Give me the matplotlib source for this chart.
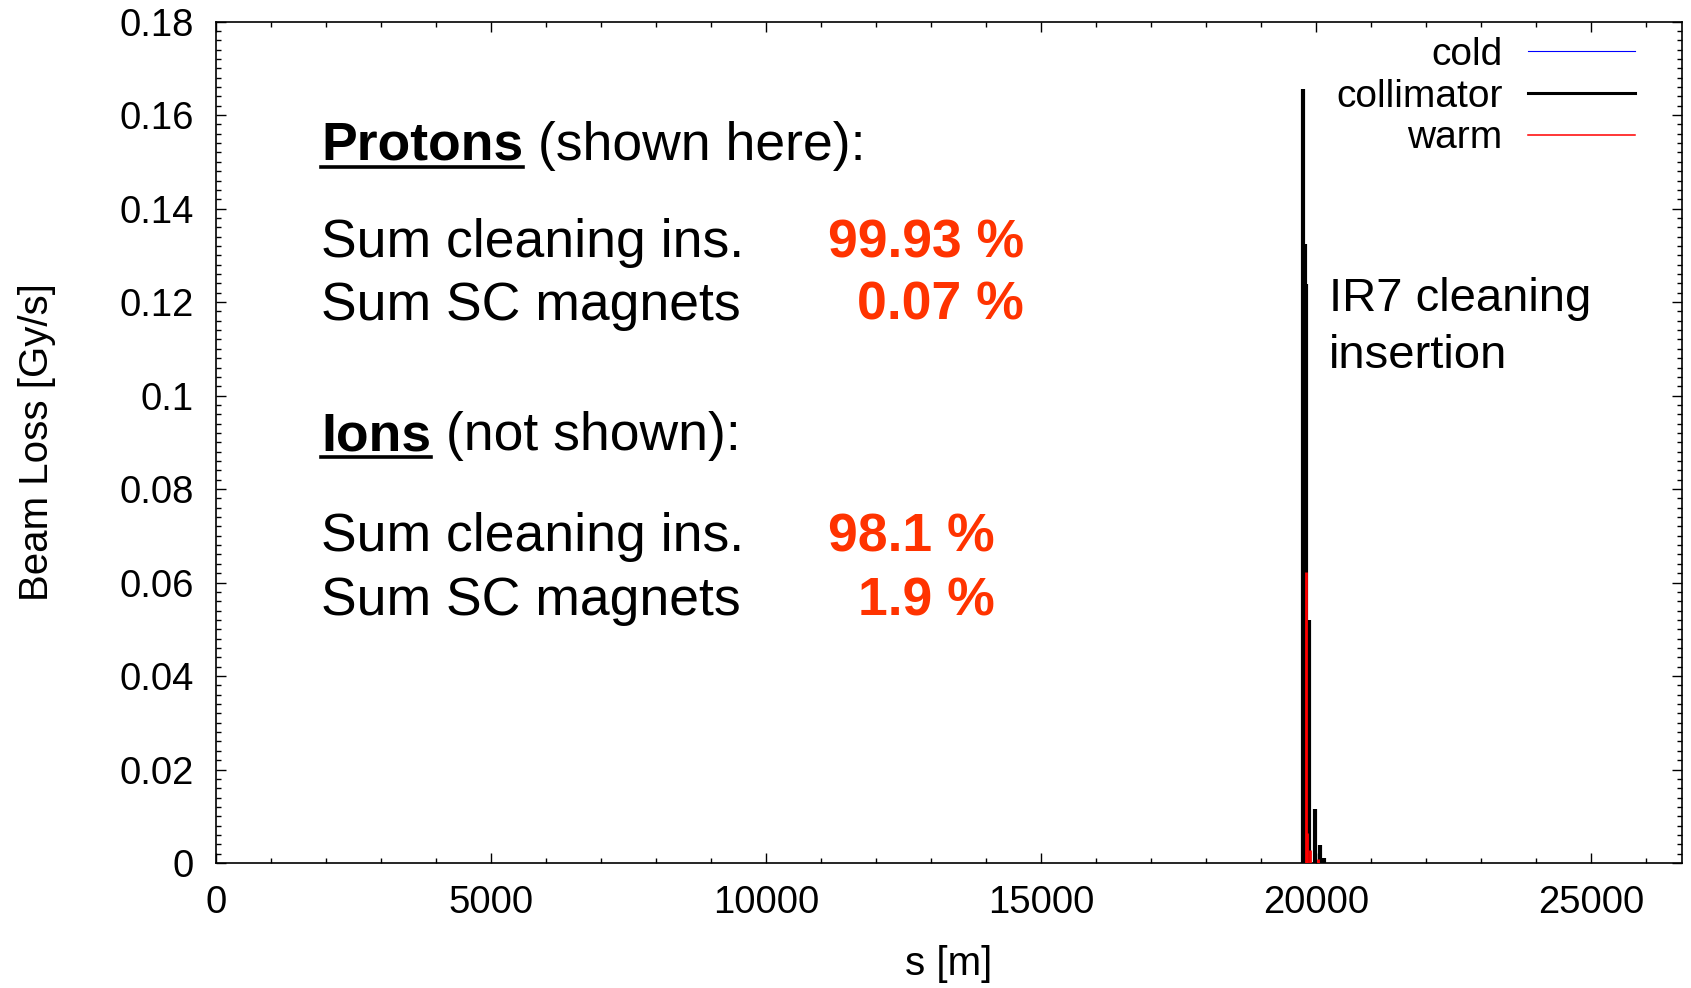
import matplotlib
matplotlib.use("Agg")
import matplotlib.pyplot as plt
from matplotlib.lines import Line2D
from matplotlib.ticker import MultipleLocator, FixedLocator, FixedFormatter

plt.rcParams['font.family'] = ['Liberation Sans', 'DejaVu Sans']

# ---------------- data ----------------
s_collimator = [19764, 19800, 19825, 19885, 19987, 20082, 20145]
loss_collimator = [0.1655, 0.1324, 0.1238, 0.0519, 0.0116, 0.0039, 0.0010]
s_warm = [19813, 19835, 19903, 20040]
loss_warm = [0.0623, 0.0064, 0.0027, 0.0008]
s_cold = []
loss_cold = []

x_ticks = [0, 5000, 10000, 15000, 20000, 25000]
x_labels = ["0", "5000", "10000", "15000", "20000", "25000"]
y_ticks = [0, 0.02, 0.04, 0.06, 0.08, 0.1, 0.12, 0.14, 0.16, 0.18]
y_labels = ["0", "0.02", "0.04", "0.06", "0.08", "0.1", "0.12", "0.14", "0.16", "0.18"]
ring_length = 26659
y_max = 0.18

series_names = ["cold", "collimator", "warm"]
proton_rows = [("Sum cleaning ins.", "99.93 %"), ("Sum SC magnets", "0.07 %")]
ion_rows = [("Sum cleaning ins.", "98.1 %"), ("Sum SC magnets", "1.9 %")]

# ---------------- figure ----------------
W, H = 1691, 988
fig = plt.figure(figsize=(W / 100, H / 100), dpi=100)
ax = fig.add_axes([216 / W, 1 - 863 / H, (1682 - 216) / W, (863 - 21.6) / H])

ax.vlines(s_collimator, 0, loss_collimator, color='black', lw=3.0, zorder=2)
ax.vlines(s_warm, 0, loss_warm, color='#ff0000', lw=2.0, zorder=3)
ax.vlines(s_cold, 0, loss_cold, color='#0000ff', lw=0.8, zorder=4)

ax.set_xlim(0, ring_length)
ax.set_ylim(0, y_max)
ax.xaxis.set_major_locator(FixedLocator(x_ticks))
ax.xaxis.set_major_formatter(FixedFormatter(x_labels))
ax.yaxis.set_major_locator(FixedLocator(y_ticks))
ax.yaxis.set_major_formatter(FixedFormatter(y_labels))
ax.xaxis.set_minor_locator(MultipleLocator(1000))
ax.yaxis.set_minor_locator(MultipleLocator(0.002))
ax.tick_params(which='both', direction='in', top=True, right=True, width=1.0, color='black')
ax.tick_params(which='major', length=7, labelsize=27.5, pad=16)
ax.tick_params(which='minor', length=3.5)
for sp in ax.spines.values():
    sp.set_linewidth(1.2)

ax.set_xlabel("s [m]", fontsize=29)
ax.xaxis.set_label_coords(0.5, -0.097)
ax.set_ylabel("Beam Loss [Gy/s]", fontsize=29)
ax.yaxis.set_label_coords(-0.109, 0.5)

handles = [Line2D([], [], color='#0000ff', lw=0.8),
           Line2D([], [], color='black', lw=2.2),
           Line2D([], [], color='#ff0000', lw=1.1)]
ax.legend(handles, series_names, loc='upper right', bbox_to_anchor=(0.968, 0.982),
          frameon=False, fontsize=28, markerfirst=False, handlelength=2.75,
          handletextpad=0.66, labelspacing=0.15, borderpad=0, borderaxespad=0)

# ---------------- annotations ----------------
renderer = fig.canvas.get_renderer()
FS = 38.5
VAL_COLOR = '#ff3300'


def px_text(x, y, s, **kw):
    return fig.text(x / W, 1 - y / H, s, va='baseline', **kw)


def heading(x, y, bold, rest):
    t1 = px_text(x, y, bold, fontsize=FS, fontweight='bold')
    bb = t1.get_window_extent(renderer)
    uy = (H - y) - 7
    fig.add_artist(Line2D([bb.x0 / W, bb.x1 / W], [uy / H, uy / H],
                          transform=fig.transFigure, color='black', lw=2.6))
    px_text(bb.x1, y, " " + rest, fontsize=FS)


heading(321, 160, "Protons", "(shown here):")
for (lab, val), yb in zip(proton_rows, [257, 320]):
    px_text(321, yb, lab, fontsize=FS)
    px_text(1024, yb, val, fontsize=FS, fontweight='bold', color=VAL_COLOR, ha='right')

heading(321, 450, "Ions", "(not shown):")
for (lab, val), yb in zip(ion_rows, [551, 615]):
    px_text(321, yb, lab, fontsize=FS)
    px_text(995, yb, val, fontsize=FS, fontweight='bold', color=VAL_COLOR, ha='right')

px_text(1329, 311, "IR7 cleaning", fontsize=34)
px_text(1329, 368, "insertion", fontsize=34)

fig.savefig("out.png", dpi=100)
